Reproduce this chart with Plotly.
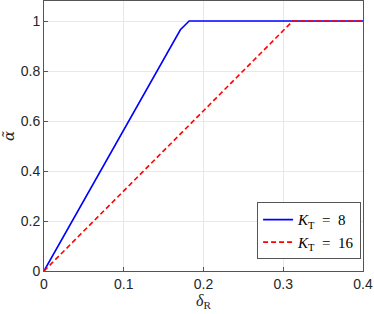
import plotly.graph_objects as go

# Data
delta_R_KT8 = [0.0, 0.171, 0.182, 0.4]
alpha_KT8 = [0.0, 0.965, 1.0, 1.0]
delta_R_KT16 = [0.0, 0.312, 0.4]
alpha_KT16 = [0.0, 1.0, 1.0]

x_ticks = [0, 0.1, 0.2, 0.3, 0.4]
x_ticklabels = ["0", "0.1", "0.2", "0.3", "0.4"]
y_ticks = [0, 0.2, 0.4, 0.6, 0.8, 1]
y_ticklabels = ["0", "0.2", "0.4", "0.6", "0.8", "1"]

serif = "DejaVu Serif, Liberation Serif, serif"
lserif = "Liberation Serif, Times New Roman, serif"
sans = "Liberation Sans, Arial, Helvetica, sans-serif"
axis_col = "#262626"

fig = go.Figure()
fig.add_trace(go.Scatter(
    x=delta_R_KT8, y=alpha_KT8, mode="lines",
    line=dict(color="#0000ff", width=1.6),
    name="<i>K</i><sub>T</sub>\u2002=\u20028"))
fig.add_trace(go.Scatter(
    x=delta_R_KT16, y=alpha_KT16, mode="lines",
    line=dict(color="#ff0000", width=1.6, dash="5px,3px"),
    name="<i>K</i><sub>T</sub>\u2002=\u200216"))

axis_common = dict(
    showline=True, mirror=True, linecolor="#555555", linewidth=1,
    ticks="inside", ticklen=4, tickcolor="#555555",
    showgrid=True, gridcolor="#e8e8e8", gridwidth=1,
    zeroline=False, automargin=False,
    tickfont=dict(family=sans, size=14, color=axis_col),
)

fig.update_layout(
    width=374, height=314,
    margin=dict(l=44, r=11, t=1, b=43),
    paper_bgcolor="white", plot_bgcolor="white",
    showlegend=True,
    legend=dict(
        x=0.994, y=0.043, xanchor="right", yanchor="bottom",
        bgcolor="white", bordercolor="#555555", borderwidth=1,
        font=dict(family=lserif, size=15, color="black"),
        tracegroupgap=0, itemwidth=30,
    ),
    xaxis=dict(
        range=[0, 0.4], tickvals=x_ticks, ticktext=x_ticklabels,
        title=dict(text="<i>δ</i><sub>R</sub>", font=dict(family=lserif, size=16, color=axis_col), standoff=2),
        **axis_common,
    ),
    yaxis=dict(
        range=[0, 1.08], tickvals=y_ticks, ticktext=y_ticklabels,
        title=dict(text="<i>α̃</i>", font=dict(family=serif, size=15, color=axis_col), standoff=8),
        **axis_common,
    ),
)

fig.write_html("out.html", config={"displayModeBar": False},
               post_script="document.body.style.margin='0';document.body.style.overflow='hidden';")
